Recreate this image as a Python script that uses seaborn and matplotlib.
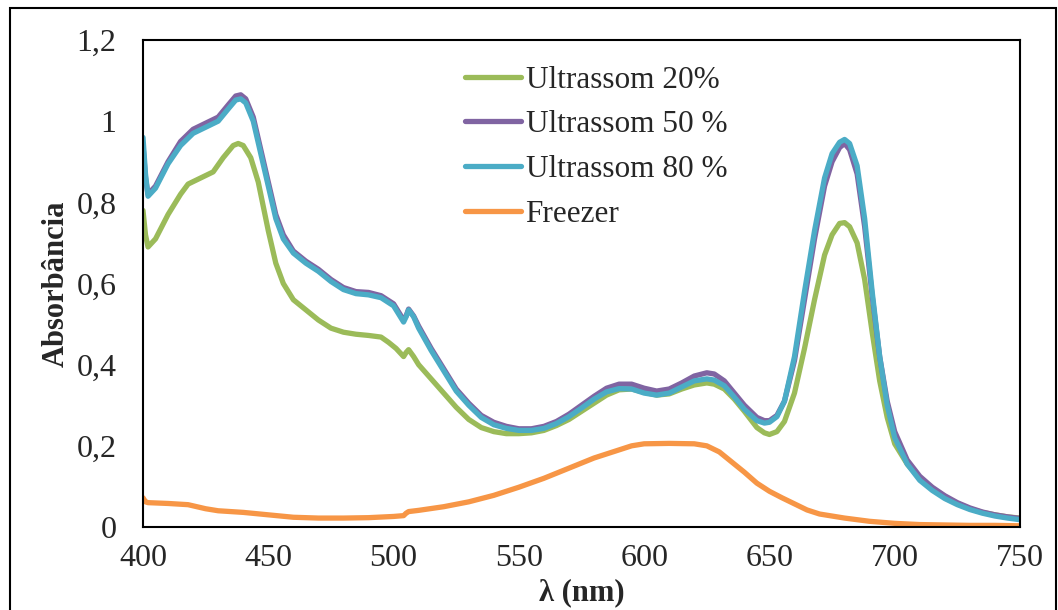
import pandas as pd
import seaborn as sns
import matplotlib.pyplot as plt
from matplotlib.patches import Rectangle

# wavelengths (nm) and absorbance
wl_20 = [400, 401, 402, 405, 410, 415, 418, 423, 428, 432, 436, 438, 440, 443, 446, 450, 453, 456,
         460, 465, 470, 475, 480, 485, 490, 495, 498, 501, 504, 505, 506, 508, 510, 515, 520, 525,
         530, 535, 540, 545, 550, 555, 560, 565, 570, 575, 580, 585, 590, 595, 600, 605, 610, 615,
         620, 625, 628, 632, 636, 640, 645, 648, 650, 653, 656, 660, 664, 668, 672, 675, 678, 680,
         682, 685, 688, 691, 694, 697, 700, 705, 710, 715, 720, 725, 730, 735, 740, 745, 750]
abs_20 = [0.78, 0.72, 0.69, 0.71, 0.77, 0.82, 0.845, 0.86, 0.875, 0.91, 0.94, 0.945, 0.94, 0.91,
          0.85, 0.73, 0.65, 0.6, 0.56, 0.535, 0.51, 0.49, 0.48, 0.475, 0.472, 0.468, 0.455, 0.44,
          0.42, 0.43, 0.437, 0.42, 0.40, 0.365, 0.33, 0.295, 0.265, 0.245, 0.235, 0.23, 0.23, 0.232,
          0.238, 0.25, 0.265, 0.285, 0.305, 0.325, 0.338, 0.34, 0.332, 0.325, 0.328, 0.34, 0.35,
          0.355, 0.352, 0.34, 0.315, 0.285, 0.245, 0.232, 0.228, 0.235, 0.26, 0.33, 0.44, 0.56,
          0.67, 0.72, 0.748, 0.75, 0.74, 0.7, 0.61, 0.48, 0.36, 0.27, 0.205, 0.155, 0.12, 0.095,
          0.075, 0.058, 0.045, 0.036, 0.03, 0.025, 0.022]

wl_50 = [400, 401, 402, 405, 410, 415, 420, 425, 430, 434, 437, 439, 441, 444, 447, 450, 453, 456,
         460, 465, 470, 475, 480, 485, 490, 495, 500, 502, 504, 505, 506, 508, 510, 515, 520, 525,
         530, 535, 540, 545, 550, 555, 560, 565, 570, 575, 580, 585, 590, 595, 600, 605, 610, 615,
         620, 625, 628, 632, 636, 640, 645, 648, 650, 653, 656, 660, 664, 668, 672, 675, 678, 680,
         682, 685, 688, 691, 694, 697, 700, 705, 710, 715, 720, 725, 730, 735, 740, 745, 750]
abs_50 = [0.94, 0.86, 0.82, 0.84, 0.9, 0.95, 0.98, 0.995, 1.01, 1.04, 1.062, 1.065, 1.055, 1.01,
          0.93, 0.85, 0.77, 0.72, 0.68, 0.655, 0.635, 0.61, 0.59, 0.58, 0.578, 0.57, 0.55, 0.53,
          0.51, 0.52, 0.537, 0.52, 0.495, 0.44, 0.39, 0.34, 0.305, 0.275, 0.258, 0.248, 0.242,
          0.242, 0.248, 0.26, 0.278, 0.3, 0.322, 0.342, 0.352, 0.352, 0.342, 0.335, 0.34, 0.355,
          0.372, 0.38, 0.377, 0.36, 0.33, 0.3, 0.27, 0.262, 0.262, 0.275, 0.31, 0.41, 0.56, 0.71,
          0.84, 0.9, 0.935, 0.945, 0.93, 0.87, 0.74, 0.57, 0.42, 0.31, 0.235, 0.165, 0.125, 0.098,
          0.077, 0.06, 0.047, 0.037, 0.03, 0.025, 0.021]

wl_80 = wl_50
abs_80 = [0.96, 0.87, 0.815, 0.835, 0.895, 0.94, 0.97, 0.985, 1.0, 1.03, 1.052, 1.055, 1.045, 1.0,
          0.92, 0.84, 0.76, 0.71, 0.675, 0.65, 0.63, 0.605, 0.585, 0.575, 0.572, 0.565, 0.545,
          0.525, 0.505, 0.518, 0.535, 0.518, 0.49, 0.435, 0.385, 0.335, 0.3, 0.27, 0.252, 0.243,
          0.238, 0.238, 0.243, 0.255, 0.272, 0.293, 0.315, 0.333, 0.341, 0.34, 0.33, 0.325, 0.33,
          0.345, 0.36, 0.365, 0.362, 0.348, 0.32, 0.29, 0.262, 0.256, 0.258, 0.272, 0.31, 0.42,
          0.58, 0.73, 0.86, 0.92, 0.948, 0.955, 0.945, 0.89, 0.76, 0.58, 0.42, 0.3, 0.22, 0.155,
          0.115, 0.09, 0.07, 0.055, 0.043, 0.034, 0.027, 0.022, 0.018]

wl_fr = [400, 401, 402, 410, 418, 425, 430, 440, 450, 460, 470, 480, 490, 500, 504, 505, 506, 510,
         520, 530, 540, 550, 560, 570, 580, 590, 595, 600, 610, 620, 625, 630, 635, 640, 645, 650,
         655, 660, 665, 670, 680, 690, 700, 710, 720, 730, 740, 750]
abs_fr = [0.072, 0.062, 0.06, 0.058, 0.055, 0.045, 0.04, 0.036, 0.03, 0.024, 0.022, 0.022, 0.023,
          0.026, 0.028, 0.034, 0.038, 0.041, 0.05, 0.062, 0.078, 0.098, 0.12, 0.145, 0.17, 0.19,
          0.2, 0.205, 0.206, 0.205, 0.2, 0.185, 0.16, 0.135, 0.108, 0.088, 0.072, 0.057, 0.042,
          0.032, 0.022, 0.014, 0.009, 0.006, 0.005, 0.004, 0.004, 0.003]

series = [
    ("Ultrassom 20%", wl_20, abs_20, "#9BBB59"),
    ("Ultrassom 50 %", wl_50, abs_50, "#8064A2"),
    ("Ultrassom 80 %", wl_80, abs_80, "#4BACC6"),
    ("Freezer", wl_fr, abs_fr, "#F79646"),
]

sns.set_style("white")
plt.rcParams['font.family'] = ['Liberation Serif', 'DejaVu Serif']

fig = plt.figure(figsize=(10.58, 6.10), dpi=100)
ax = fig.add_axes([143 / 1058, 83 / 610, 877 / 1058, 487 / 610])

for name, x, y, color in series:
    df = pd.DataFrame({"wl": x, "abs": y})
    sns.lineplot(data=df, x="wl", y="abs", ax=ax, color=color, linewidth=3.8,
                 label=name, solid_capstyle="round", sort=False)

ax.set_xlim(400, 750)
ax.set_ylim(0, 1.2)
ax.set_xticks(range(400, 751, 50))
ax.set_yticks([0, 0.2, 0.4, 0.6, 0.8, 1.0, 1.2])
ax.set_yticklabels(["0", "0,2", "0,4", "0,6", "0,8", "1", "1,2"])
ax.tick_params(axis="both", length=0, labelsize=23)
ax.tick_params(axis="y", pad=19)
ax.tick_params(axis="x", pad=12)
for s in ax.spines.values():
    s.set_color("black")
    s.set_linewidth(1.5)

ax.set_xlabel("λ (nm)", fontsize=22, fontweight="bold", labelpad=4)
ax.set_ylabel("Absorbância", fontsize=22, fontweight="bold", labelpad=4)

ax.legend(loc="upper left", bbox_to_anchor=(449 / 1058, 1 - 50 / 610),
          bbox_transform=fig.transFigure, frameon=False, fontsize=22.5,
          handlelength=1.8, handletextpad=0.15, labelspacing=0.5, borderpad=0)

# outer frame around the chart
fig.patches.append(Rectangle((10 / 1058, -0.1), 1046 / 1058, (610 - 8) / 610 + 0.1,
                             transform=fig.transFigure, fill=False, edgecolor="black",
                             linewidth=1.5))

fig.savefig("out.png", dpi=100)
